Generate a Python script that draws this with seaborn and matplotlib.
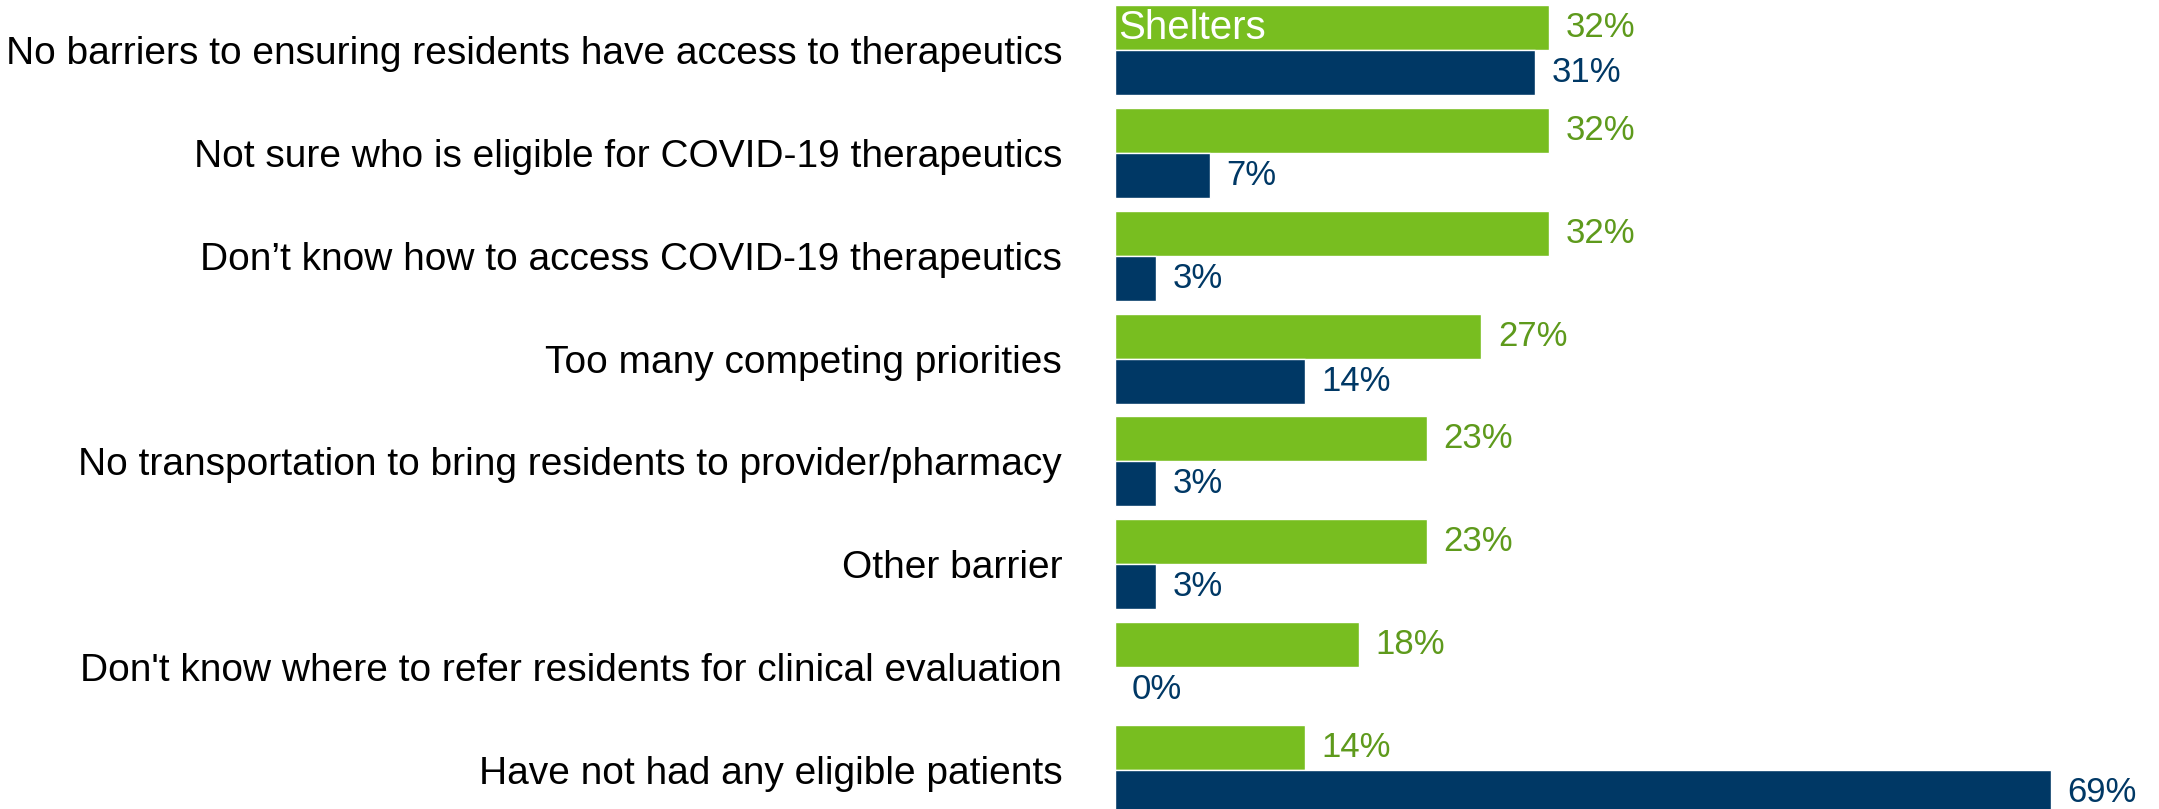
import matplotlib.pyplot as plt
import seaborn as sns
import pandas as pd

sns.set_style("white")
plt.rcParams['font.family'] = ["Liberation Sans", "DejaVu Sans"]

# Data
categories = [
    "No barriers to ensuring residents have access to therapeutics",
    "Not sure who is eligible for COVID-19 therapeutics",
    "Don\u2019t know how to access COVID-19 therapeutics",
    "Too many competing priorities",
    "No transportation to bring residents to provider/pharmacy",
    "Other barrier",
    "Don't know where to refer residents for clinical evaluation",
    "Have not had any eligible patients",
]
series = ["Shelters", "Other settings"]
shelters = [32, 32, 32, 27, 23, 23, 18, 14]
other = [31, 7, 3, 14, 3, 3, 0, 69]

bar_colors = ["#78BE20", "#003865"]
label_colors = ["#5E9A1C", "#003865"]

df = pd.DataFrame({
    "category": categories * 2,
    "series": [series[0]] * len(categories) + [series[1]] * len(categories),
    "value": shelters + other,
})

W, H = 2159, 809
fig = plt.figure(figsize=(W / 100, H / 100), dpi=100)
left_px = 1115
ax = fig.add_axes([left_px / W, 0, 1 - left_px / W, 1])

sns.barplot(data=df, y="category", x="value", hue="series", order=categories,
            hue_order=series, palette=bar_colors, width=0.875, orient="h",
            legend=False, ax=ax, saturation=1)

step = 102.8
ax.set_xlim(0, (W - left_px) / 13.56)
ax.set_ylim(7 + (H - 770) / step, -50 / step)

for container, col in zip(ax.containers, label_colors):
    ax.bar_label(container, labels=[f"{v:.0f}%" for v in container.datavalues],
                 padding=12, color=col, fontsize=25)

ax.set_xticks([])
ax.set_xlabel("")
ax.set_ylabel("")
ax.tick_params(axis="y", length=0, pad=38, labelsize=28, labelcolor="black")
for s in ax.spines.values():
    s.set_visible(False)

# series name drawn inside the first green bar
first = ax.containers[0][0]
ax.text(0.25, first.get_y() + first.get_height() / 2, series[0],
        color="white", fontsize=29, va="center", ha="left")

plt.savefig("out.png", dpi=100)
